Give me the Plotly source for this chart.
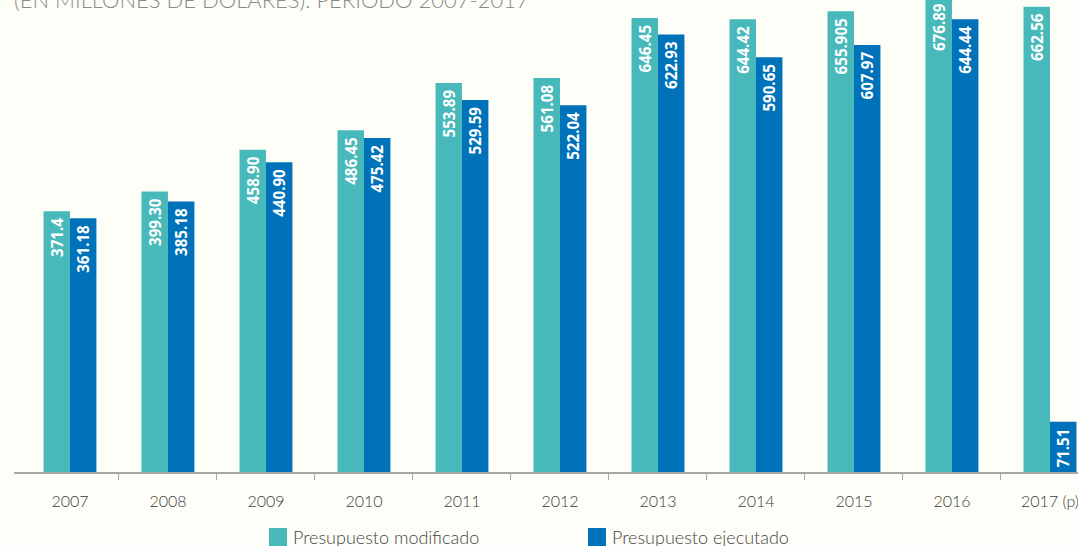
import plotly.graph_objects as go

categories = ["2007", "2008", "2009", "2010", "2011", "2012", "2013", "2014", "2015", "2016", "2017 (p)"]
modificado = [371.4, 399.30, 458.90, 486.45, 553.89, 561.08, 646.45, 644.42, 655.905, 676.89, 662.56]
modificado_labels = ["371.4", "399.30", "458.90", "486.45", "553.89", "561.08", "646.45", "644.42", "655.905", "676.89", "662.56"]
ejecutado = [361.18, 385.18, 440.90, 475.42, 529.59, 522.04, 622.93, 590.65, 607.97, 644.44, 71.51]
ejecutado_labels = ["361.18", "385.18", "440.90", "475.42", "529.59", "522.04", "622.93", "590.65", "607.97", "644.44", "71.51"]
series_names = ["Presupuesto modificado", "Presupuesto ejecutado"]
title_text = "(EN MILLONES DE DÓLARES). PERIODO 2007-2017"

TEAL = "#48B9BA"
BLUE = "#0072BA"
BG = "#FEFEF8"

x = list(range(len(categories)))

fig = go.Figure()
for vals, labels, name, col in [(modificado, modificado_labels, series_names[0], TEAL),
                                 (ejecutado, ejecutado_labels, series_names[1], BLUE)]:
    fig.add_trace(go.Bar(
        x=x, y=vals, name=name, marker=dict(color=col, line=dict(width=0)),
        text=[l + "\u00a0" for l in labels], textposition="inside",
        insidetextanchor="end", textangle=-90,
        textfont=dict(family="Open Sans, sans-serif", size=17, color="white", weight="bold"),
        cliponaxis=True, showlegend=False,
    ))

fig.update_layout(
    width=1078, height=546,
    margin=dict(l=14, r=0, t=0, b=74),
    paper_bgcolor=BG, plot_bgcolor=BG,
    barmode="group", bargap=0.46, bargroupgap=0,
    xaxis=dict(
        range=[-0.571, 10.286], tickmode="array", tickvals=x, ticktext=categories,
        showline=True, linecolor="#A8A8A8", linewidth=1.5,
        ticks="", showgrid=False, zeroline=False,
        tickfont=dict(family="Lato, sans-serif", size=16, color="#3a3a3a", weight=300),
        ticklabelstandoff=14, ticklabeloverflow="allow",
        minor=dict(tickmode="array", tickvals=[i + 0.5 for i in range(len(categories) - 1)],
                   ticks="outside", ticklen=6, tickcolor="#A8A8A8", tickwidth=1.2, showgrid=False),
    ),
    yaxis=dict(range=[0, 672], visible=False, showgrid=False, zeroline=False),
    font=dict(family="Lato, sans-serif"),
)

# title (cropped at top in the reference)
fig.add_annotation(xref="paper", yref="paper", x=-0.002, y=0.968, xanchor="left", yanchor="bottom",
                   text=title_text, showarrow=False,
                   font=dict(family="Lato, sans-serif", size=22, color="#8a8a8a", weight=300))

# manual legend
legend_items = [(series_names[0], TEAL, 269), (series_names[1], BLUE, 588)]
for name, col, px in legend_items:
    fig.add_shape(type="rect", xref="paper", yref="paper",
                  x0=(px - 14) / 1064, x1=(px + 18 - 14) / 1064,
                  y0=-(546 - 472) / 472, y1=-(528 - 472) / 472,
                  fillcolor=col, line=dict(width=0))
    fig.add_annotation(xref="paper", yref="paper", x=(px + 22 - 14) / 1064, y=-(537 - 472) / 472,
                       xanchor="left", yanchor="middle", text=name, showarrow=False,
                       font=dict(family="Lato, sans-serif", size=18, color="#444444", weight=300))

fig.write_html("out.html", config={"displayModeBar": False},
               post_script="document.body.style.margin='0';document.body.style.overflow='hidden';")
